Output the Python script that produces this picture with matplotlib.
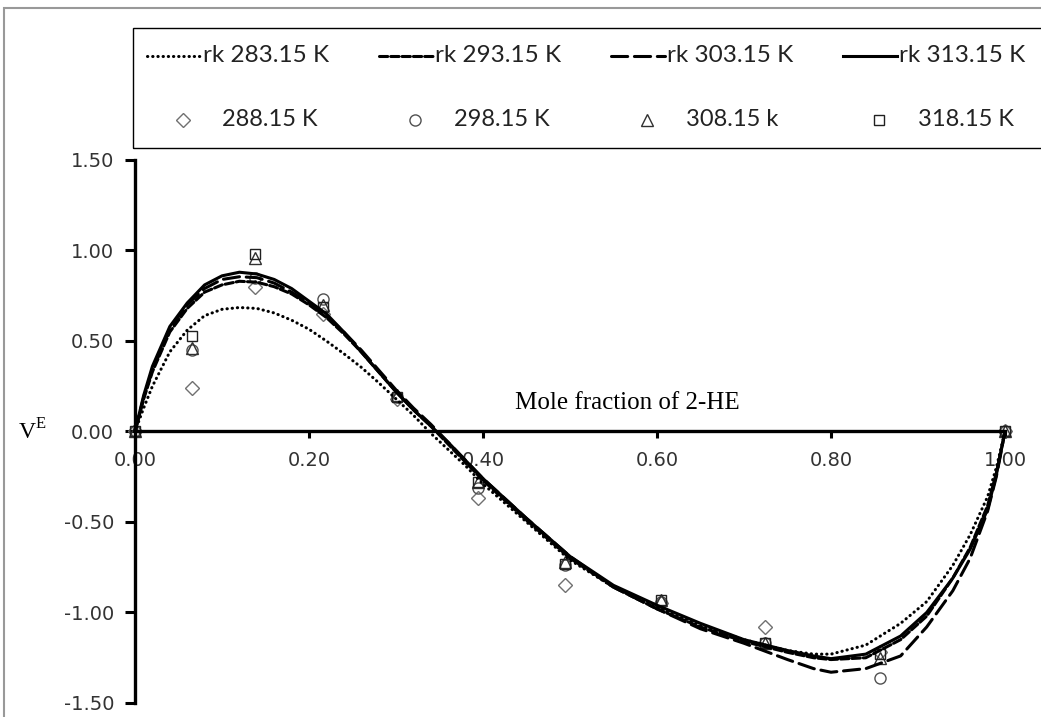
import numpy as np
import matplotlib
matplotlib.use('Agg')
import matplotlib.pyplot as plt
from matplotlib import font_manager
from matplotlib.lines import Line2D
from matplotlib.patches import Rectangle

# ── Redlich-Kister fitted curves ────────────────────────────────
x_rk = [0.0, 0.01, 0.02, 0.04, 0.06, 0.08, 0.10, 0.12, 0.14, 0.16, 0.18,
        0.20, 0.22, 0.24, 0.26, 0.28, 0.30, 0.32, 0.34, 0.36, 0.38, 0.40,
        0.45, 0.50, 0.55, 0.60, 0.65, 0.70, 0.75, 0.78, 0.80, 0.84, 0.88,
        0.91, 0.94, 0.96, 0.98, 0.99, 1.0]

rk_283 = [0.0, 0.13, 0.25, 0.44, 0.56, 0.64, 0.675, 0.685, 0.68, 0.655,
          0.615, 0.565, 0.50, 0.43, 0.355, 0.27, 0.18, 0.09, -0.01, -0.10,
          -0.19, -0.29, -0.50, -0.71, -0.86, -0.97, -1.07, -1.15, -1.21,
          -1.23, -1.23, -1.18, -1.06, -0.94, -0.74, -0.57, -0.36, -0.20, 0.0]

rk_293 = [0.0, 0.18, 0.33, 0.55, 0.68, 0.77, 0.81, 0.83, 0.825, 0.80,
          0.76, 0.70, 0.63, 0.54, 0.44, 0.33, 0.22, 0.12, 0.03, -0.07,
          -0.17, -0.27, -0.49, -0.70, -0.86, -0.98, -1.08, -1.16, -1.22,
          -1.25, -1.26, -1.25, -1.15, -1.02, -0.81, -0.64, -0.41, -0.23, 0.0]

rk_303 = [0.0, 0.19, 0.34, 0.57, 0.70, 0.79, 0.84, 0.855, 0.85, 0.82,
          0.77, 0.71, 0.64, 0.55, 0.45, 0.34, 0.23, 0.13, 0.04, -0.06,
          -0.16, -0.26, -0.48, -0.69, -0.86, -0.98, -1.09, -1.17, -1.26,
          -1.31, -1.33, -1.31, -1.24, -1.08, -0.88, -0.70, -0.44, -0.25, 0.0]

rk_313 = [0.0, 0.20, 0.36, 0.58, 0.71, 0.81, 0.86, 0.88, 0.87, 0.84,
          0.79, 0.72, 0.65, 0.55, 0.44, 0.33, 0.22, 0.12, 0.03, -0.06,
          -0.16, -0.26, -0.48, -0.69, -0.85, -0.96, -1.06, -1.15, -1.21,
          -1.24, -1.255, -1.23, -1.13, -1.00, -0.81, -0.65, -0.43, -0.24, 0.0]

# ── experimental points ─────────────────────────────────────────
x_exp = [0.0, 0.065, 0.138, 0.216, 0.301, 0.394, 0.494, 0.605, 0.724, 0.856, 1.0]
ve_288 = [0.0, 0.24, 0.80, 0.65, 0.18, -0.37, -0.85, -0.95, -1.08, -1.22, 0.0]
ve_298 = [0.0, 0.45, 0.85, 0.73, 0.19, -0.31, -0.74, -0.94, -1.17, -1.36, 0.0]
ve_308 = [0.0, 0.46, 0.96, 0.70, 0.20, -0.28, -0.72, -0.93, -1.17, -1.25, 0.0]
ve_318 = [0.0, 0.53, 0.98, 0.69, 0.19, -0.28, -0.73, -0.93, -1.17, -1.23, 0.0]

rk_labels = ['rk 283.15 K', 'rk 293.15 K', 'rk 303.15 K', 'rk 313.15 K']
exp_labels = ['288.15 K', '298.15 K', '308.15 k', '318.15 K']

y_ticks = [-1.5, -1.0, -0.5, 0.0, 0.5, 1.0, 1.5]
x_ticks = [0.0, 0.2, 0.4, 0.6, 0.8, 1.0]

# ── styles ──────────────────────────────────────────────────────
LW = 2.2
RK_STYLES = [(0, (0.1, 1.6)), (0, (2.7, 1.0)), (0, (5.3, 2.2)), '-']
EXP_MARKERS = ['D', 'o', '^', 's']
EXP_SIZES = [7, 8, 8.5, 7.5]
EXP_EDGES = ['#707070', '#505050', '#303030', '#202020']

available = {f.name for f in font_manager.fontManager.ttflist}
LEG_FONT = 'Liberation Sans Narrow' if 'Liberation Sans Narrow' in available else 'Lato'
SERIF = 'Liberation Serif'

fig = plt.figure(figsize=(10.41, 7.17), dpi=100)
ax = fig.add_axes([135 / 1041, 1 - 703 / 717, 870 / 1041, 543 / 717])

for ys, ls in zip([rk_283, rk_293, rk_303, rk_313], RK_STYLES):
    ax.plot(x_rk, ys, color='black', linewidth=LW, linestyle=ls,
            dash_capstyle='round', zorder=3, clip_on=False)

for ys, mk, ms, ec in zip([ve_288, ve_298, ve_308, ve_318],
                          EXP_MARKERS, EXP_SIZES, EXP_EDGES):
    ax.plot(x_exp, ys, linestyle='none', marker=mk, markersize=ms,
            markerfacecolor='none', markeredgecolor=ec, markeredgewidth=1.0,
            zorder=2, clip_on=False)

ax.set_xlim(0, 1.0)
ax.set_ylim(-1.5, 1.5)
ax.spines['top'].set_visible(False)
ax.spines['right'].set_visible(False)
ax.spines['bottom'].set_position(('data', 0))
for s in ('left', 'bottom'):
    ax.spines[s].set_linewidth(2.4)
ax.set_yticks(y_ticks)
ax.set_xticks(x_ticks)
ax.set_yticklabels([f'{v:.2f}' for v in y_ticks])
ax.set_xticklabels([f'{v:.2f}' for v in x_ticks])
ax.tick_params(axis='y', direction='out', length=7, width=2.2, pad=8,
               labelsize=14, labelcolor='#333333')
ax.tick_params(axis='x', direction='out', length=5, width=2.2, pad=9,
               labelsize=14, labelcolor='#333333')
ax.patch.set_alpha(0)

ax.text(0.437, 0.16, 'Mole fraction of 2-HE', family=SERIF, fontsize=18,
        ha='left', va='center')
ax.text(-0.135, 0.0, r'V$^{\mathregular{E}}$', family=SERIF, fontsize=17,
        ha='left', va='center', clip_on=False)

# ── outer frame and legend box ──────────────────────────────────
fig.patches.append(Rectangle((4 / 1041, -0.05), 1.2, 1.05 - 8 / 717,
                             transform=fig.transFigure, fill=False,
                             edgecolor='#999999', linewidth=1.5))
fig.patches.append(Rectangle((133 / 1041, 1 - 148 / 717), 1.0, 120 / 717,
                             transform=fig.transFigure, fill=False,
                             edgecolor='black', linewidth=1.0))


def px(x, y):
    return x / 1041, 1 - y / 717


col_w = 232
row1_y, row2_y = 56, 120
for i, (lbl, ls) in enumerate(zip(rk_labels, RK_STYLES)):
    c = 147 + col_w * i
    x0, y0 = px(c, row1_y)
    x1, _ = px(c + 54, row1_y)
    fig.add_artist(Line2D([x0, x1], [y0, y0], transform=fig.transFigure,
                          color='black', linewidth=LW, linestyle=ls,
                          dash_capstyle='round'))
    tx, ty = px(c + 56, row1_y)
    fig.text(tx, ty, lbl, family=LEG_FONT, fontsize=17.5, ha='left',
             va='center', color='#222222')

for i, (lbl, mk, ms, ec) in enumerate(zip(exp_labels, EXP_MARKERS,
                                          EXP_SIZES, EXP_EDGES)):
    c = 147 + col_w * i
    mx, my = px(c + 36, row2_y)
    fig.add_artist(Line2D([mx], [my], transform=fig.transFigure,
                          linestyle='none', marker=mk, markersize=ms,
                          markerfacecolor='none', markeredgecolor=ec,
                          markeredgewidth=1.0))
    tx, ty = px(c + 75, row2_y)
    fig.text(tx, ty, lbl, family=LEG_FONT, fontsize=17, ha='left',
             va='center', color='#222222')

fig.savefig('out.png', dpi=100)
